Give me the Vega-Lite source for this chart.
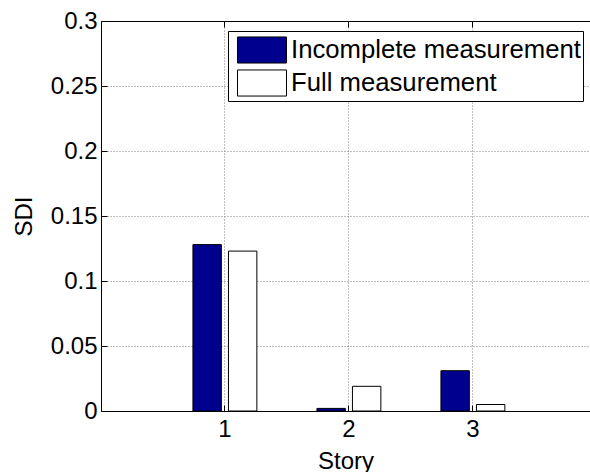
{
  "$schema": "https://vega.github.io/schema/vega-lite/v6.json",
  "width": 489,
  "height": 390,
  "autosize": "none",
  "padding": {"left": 101, "top": 21, "right": 0, "bottom": 61},
  "background": "white",
  "config": {
    "font": "Arial",
    "view": {"stroke": null},
    "axis": {
      "labelFont": "Arial",
      "titleFont": "Arial",
      "domainColor": "black",
      "domainWidth": 1,
      "tickColor": "black",
      "labelColor": "black",
      "titleColor": "black",
      "labelFontSize": 24,
      "titleFontSize": 24,
      "titleFontWeight": "normal",
      "gridColor": "#7f7f7f",
      "gridDash": [1, 2],
      "gridWidth": 1
    },
    "legend": {"labelFont": "Arial"}
  },
  "data": {
    "values": [
      {"Story": 1, "Series": "Incomplete measurement", "SDI": 0.128},
      {"Story": 1, "Series": "Full measurement", "SDI": 0.123},
      {"Story": 2, "Series": "Incomplete measurement", "SDI": 0.002},
      {"Story": 2, "Series": "Full measurement", "SDI": 0.019},
      {"Story": 3, "Series": "Incomplete measurement", "SDI": 0.031},
      {"Story": 3, "Series": "Full measurement", "SDI": 0.005}
    ]
  },
  "layer": [
    {
      "mark": {"type": "bar", "stroke": "black", "strokeWidth": 1},
      "encoding": {
        "x": {
          "field": "Story",
          "type": "ordinal",
          "scale": {"type": "band", "domain": [1, 2, 3], "paddingInner": 0.427, "paddingOuter": 0.6853, "align": 0.52},
          "axis": {
            "orient": "bottom",
            "title": "Story",
            "labelAngle": 0,
            "grid": true,
            "bandPosition": 0.5,
            "tickSize": -6,
            "labelPadding": 12,
            "titlePadding": 8
          }
        },
        "xOffset": {
          "field": "Series",
          "type": "nominal",
          "scale": {"domain": ["Incomplete measurement", "Full measurement"], "paddingInner": 0.2, "paddingOuter": 0.1}
        },
        "y": {
          "field": "SDI",
          "type": "quantitative",
          "scale": {"domain": [0, 0.3], "nice": false},
          "axis": {
            "title": "SDI",
            "values": [0, 0.05, 0.1, 0.15, 0.2, 0.25, 0.3],
            "format": "~g",
            "grid": true,
            "tickSize": -6,
            "labelPadding": 10,
            "titlePadding": 14
          }
        },
        "fill": {
          "field": "Series",
          "type": "nominal",
          "scale": {"domain": ["Incomplete measurement", "Full measurement"], "range": ["#00008F", "#FFFFFF"]},
          "legend": {
            "title": null,
            "orient": "none",
            "legendX": 127,
            "legendY": 10,
            "fillColor": "white",
            "strokeColor": "black",
            "padding": 2,
            "rowPadding": 0,
            "symbolType": "M-1.485,-0.79H1.485V0.79H-1.485Z",
            "symbolSize": 1089,
            "symbolStrokeColor": "black",
            "symbolStrokeWidth": 1,
            "symbolOffset": 15,
            "labelOffset": 12,
            "labelFont": "Arial",
            "labelFontSize": 25.7,
            "labelColor": "black",
            "labelLimit": 400
          }
        }
      }
    },
    {
      "mark": {"type": "bar", "opacity": 0},
      "encoding": {
        "x": {
          "field": "Story",
          "type": "ordinal",
          "scale": {"type": "band", "domain": [1, 2, 3], "paddingInner": 0.427, "paddingOuter": 0.6853, "align": 0.52},
          "axis": {
            "orient": "top",
            "title": null,
            "labels": false,
            "grid": false,
            "bandPosition": 0.5,
            "tickSize": -6
          }
        }
      }
    }
  ],
  "resolve": {"axis": {"x": "independent"}}
}
